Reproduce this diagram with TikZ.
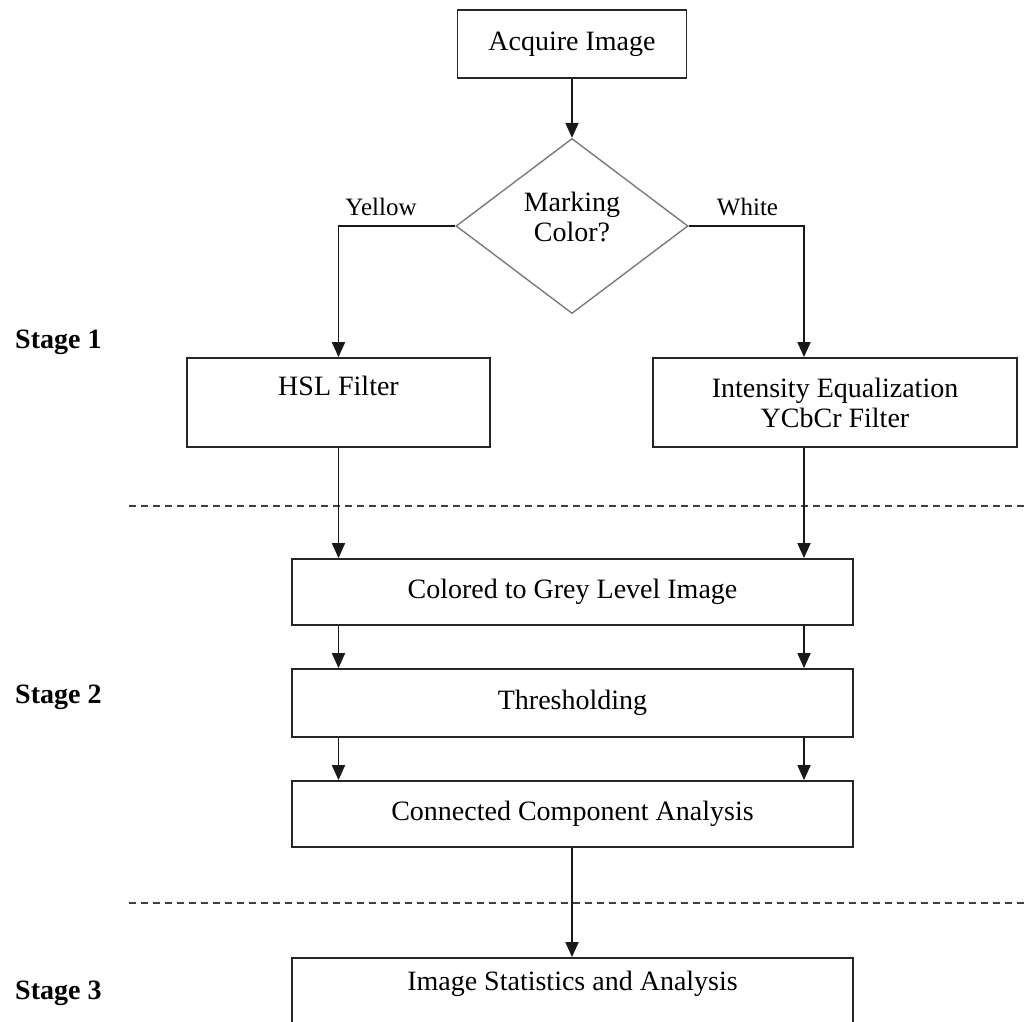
\documentclass[tikz,border=0pt]{standalone}
\usepackage{fontspec}
\setmainfont{Liberation Serif}
\usetikzlibrary{shapes.geometric,arrows.meta}
\begin{document}
\begin{tikzpicture}[x=1pt,y=-1pt,
  txt/.style={font=\fontsize{28}{30}\selectfont,align=center,inner sep=0pt},
  small/.style={font=\fontsize{25}{28}\selectfont,inner sep=0pt},
  stagelbl/.style={font=\fontsize{28}{30}\selectfont\bfseries,inner sep=0pt,anchor=west},
  box/.style={draw=black!85,line width=1.8pt,inner sep=0pt,txt},
  decision/.style={draw=black!55,line width=1.3pt,diamond,inner sep=0pt,aspect=1.33},
  arr/.style={draw=black!90,line width=1.8pt,-{Triangle[length=15pt,width=13pt]}},
  sep/.style={draw=black!75,line width=1.8pt,dash pattern=on 7pt off 5pt}]
\useasboundingbox (0,0) rectangle (1024,1021);
\clip (0,0) rectangle (1024,1021);

% nodes
\node[box,minimum width=229pt,minimum height=68pt] (acq) at (572,44) {Acquire Image};
\node[decision,minimum width=232pt,minimum height=175pt,
  label={[txt,yshift=9pt]center:Marking\\Color?}] (dia) at (572,226) {};
\node[box,minimum width=303pt,minimum height=89pt,
  label={[txt,anchor=center,yshift=-29pt]north:HSL Filter}] (hsl) at (338.5,402.5) {};
\node[box,minimum width=364pt,minimum height=89pt] (int) at (835,402.5)
  {Intensity Equalization\\YCbCr Filter};
\node[box,minimum width=561pt,minimum height=66pt] (col) at (572.5,592) {Colored to Grey Level Image};
\node[box,minimum width=561pt,minimum height=68pt] (thr) at (572.5,703) {Thresholding};
\node[box,minimum width=561pt,minimum height=66pt] (cca) at (572.5,814) {Connected Component Analysis};
\node[box,minimum width=561pt,minimum height=84pt,
  label={[txt,anchor=center,yshift=-27pt]north:Image Statistics and Analysis}] (ist) at (572.5,1000) {};

\node[small] (yel) at (381,207) {Yellow};
\node[small] (wht) at (747.5,207) {White};

\node[stagelbl] (s1) at (15,342) {Stage 1};
\node[stagelbl] (s2) at (15,697) {Stage 2};
\node[stagelbl] (s3) at (15,993) {Stage 3};

% helper coordinates
\coordinate (lx) at (338.5,0);
\coordinate (rx) at (804,0);
\coordinate (mx) at (572,0);
\coordinate (d1a) at (129,506);
\coordinate (d1b) at (1024,506);
\coordinate (d2a) at (129,903);
\coordinate (d2b) at (1024,903);

% separators
\draw[sep] (d1a) -- (d1b);
\draw[sep] (d2a) -- (d2b);

% connectors
\draw[arr] (acq.south) -- (dia.north);
\draw[arr] (dia.west) -| (hsl.north);
\draw[arr] (dia.east) -| (rx |- int.north);
\draw[arr] (hsl.south) -- (lx |- col.north);
\draw[arr] (rx |- int.south) -- (rx |- col.north);
\draw[arr] (lx |- col.south) -- (lx |- thr.north);
\draw[arr] (rx |- col.south) -- (rx |- thr.north);
\draw[arr] (lx |- thr.south) -- (lx |- cca.north);
\draw[arr] (rx |- thr.south) -- (rx |- cca.north);
\draw[arr] (mx |- cca.south) -- (mx |- ist.north);
\end{tikzpicture}
\end{document}
